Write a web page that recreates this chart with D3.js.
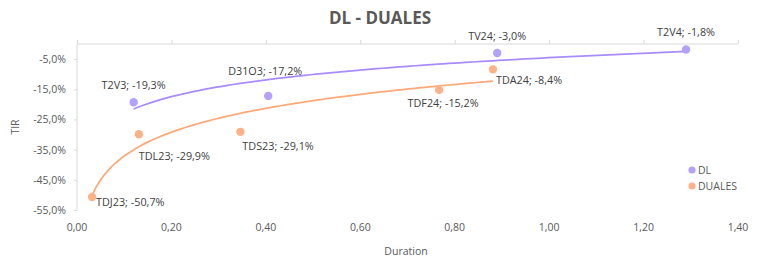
<!DOCTYPE html>
<html>
<head>
<meta charset="utf-8">
<script src="https://cdn.jsdelivr.net/npm/d3@7"></script>
<style>
  body { margin: 0; background: #fff; }
  text { font-family: "Open Sans", "Noto Sans", sans-serif; fill: #595959; }
</style>
</head>
<body>
<script>
// data
var dlNames = ["T2V3", "D31O3", "TV24", "T2V4"];
var dlDuration = [0.12, 0.405, 0.89, 1.29];
var dlTir = [-19.3, -17.2, -3.0, -1.8];

var dualesNames = ["TDJ23", "TDL23", "TDS23", "TDF24", "TDA24"];
var dualesDuration = [0.032, 0.131, 0.346, 0.767, 0.881];
var dualesTir = [-50.7, -29.9, -29.1, -15.2, -8.4];

var xTicks = [0, 0.2, 0.4, 0.6, 0.8, 1.0, 1.2, 1.4];
var yTicks = [-55, -45, -35, -25, -15, -5];

// label placement per point [dx, dy, anchor]
var dlLabelPos = [[0, -17, "middle"], [-3, -25, "middle"], [0, -17, "middle"], [0, -17, "middle"]];
var dualesLabelPos = [[4, 5, "start"], [0, 22, "start"], [2, 14, "start"], [4, 13, "middle"], [3, 11, "start"]];

var W = 761, H = 257;
var margin = { left: 77, right: 23, top: 44, bottom: 47 };

var svg = d3.select("body").append("svg")
    .attr("width", W)
    .attr("height", H);

var x = d3.scaleLinear().domain([0, 1.4]).range([margin.left, W - margin.right]);
var y = d3.scaleLinear().domain([-55, 0]).range([H - margin.bottom, margin.top]);

var comma = function (v, n) { return v.toFixed(n).replace(".", ","); };

// y axis
var yAxis = svg.append("g")
    .attr("transform", "translate(" + margin.left + ",0)")
    .call(d3.axisLeft(y).tickValues(yTicks).tickSize(3).tickPadding(8)
        .tickFormat(function (d) { return comma(d, 1) + "%"; }));
yAxis.select(".domain").attr("stroke", "#d9d9d9").attr("d", "M0," + y(-55) + "V" + y(0));
yAxis.selectAll(".tick line").attr("stroke", "#d9d9d9");
yAxis.selectAll(".tick text").attr("font-size", 10.5).attr("fill", "#595959")
    .style("font-family", "'Open Sans', sans-serif");

// x axis line sits at 0% (top), labels at the bottom
var xAxis = svg.append("g")
    .attr("transform", "translate(0," + y(0) + ")")
    .call(d3.axisTop(x).tickValues(xTicks).tickSize(4).tickFormat(""));
xAxis.select(".domain").attr("stroke", "#d9d9d9").attr("d", "M" + x(0) + ",0H" + x(1.4));
xAxis.selectAll(".tick line").attr("stroke", "#d9d9d9");

svg.append("g").selectAll("text")
    .data(xTicks)
    .join("text")
    .attr("x", function (d) { return x(d); })
    .attr("y", 231)
    .attr("text-anchor", "middle")
    .attr("font-size", 10.5)
    .text(function (d) { return comma(d, 2); });

// log trendline fit y = a + b ln(x)
function logFit(xs, ys) {
  var lx = xs.map(Math.log);
  var mx = d3.mean(lx), my = d3.mean(ys);
  var sxy = d3.sum(lx, function (v, i) { return (v - mx) * (ys[i] - my); });
  var sxx = d3.sum(lx, function (v) { return (v - mx) * (v - mx); });
  var b = sxy / sxx;
  return { a: my - b * mx, b: b };
}

var series = [
  { name: "DL", names: dlNames, xs: dlDuration, ys: dlTir, pos: dlLabelPos, dot: "#b4a2fa", line: "#a98cfb" },
  { name: "DUALES", names: dualesNames, xs: dualesDuration, ys: dualesTir, pos: dualesLabelPos, dot: "#ffb187", line: "#ffa878" }
];

var line = d3.line().x(function (d) { return x(d[0]); }).y(function (d) { return y(d[1]); });

series.forEach(function (s) {
  var f = logFit(s.xs, s.ys);
  var x0 = d3.min(s.xs), x1 = d3.max(s.xs);
  var pts = d3.range(0, 101).map(function (i) {
    var xv = x0 + (x1 - x0) * i / 100;
    return [xv, f.a + f.b * Math.log(xv)];
  });
  svg.append("path")
    .attr("d", line(pts))
    .attr("fill", "none")
    .attr("stroke", s.line)
    .attr("stroke-width", 1.75);
});

series.forEach(function (s) {
  var g = svg.append("g");
  g.selectAll("circle")
    .data(s.xs)
    .join("circle")
    .attr("cx", function (d) { return x(d); })
    .attr("cy", function (d, i) { return y(s.ys[i]); })
    .attr("r", 4.2)
    .attr("fill", s.dot);
  g.selectAll("text")
    .data(s.xs)
    .join("text")
    .attr("x", function (d, i) { return x(d) + s.pos[i][0]; })
    .attr("y", function (d, i) { return y(s.ys[i]) + s.pos[i][1]; })
    .attr("dy", "0.35em")
    .attr("text-anchor", function (d, i) { return s.pos[i][2]; })
    .attr("font-size", 10.8)
    .style("fill", "#404040")
    .text(function (d, i) { return s.names[i] + "; " + comma(s.ys[i], 1) + "%"; });
});

// title and axis titles
svg.append("text")
    .attr("x", 380).attr("y", 24)
    .attr("text-anchor", "middle")
    .attr("font-size", 17)
    .attr("font-weight", "bold")
    .text("DL - DUALES");

svg.append("text")
    .attr("transform", "translate(19," + ((y(0) + y(-55)) / 2) + ") rotate(-90)")
    .attr("text-anchor", "middle")
    .attr("font-size", 10.5)
    .text("TIR");

svg.append("text")
    .attr("x", 406).attr("y", 255)
    .attr("text-anchor", "middle")
    .attr("font-size", 10.5)
    .text("Duration");

// legend
var legend = svg.append("g");
series.forEach(function (s, i) {
  legend.append("circle")
    .attr("cx", 692).attr("cy", 170 + i * 16)
    .attr("r", 3.6).attr("fill", s.dot);
  legend.append("text")
    .attr("x", 698).attr("y", 170 + i * 16)
    .attr("dy", "0.35em")
    .attr("font-size", 10.5)
    .text(s.name);
});
</script>
</body>
</html>
